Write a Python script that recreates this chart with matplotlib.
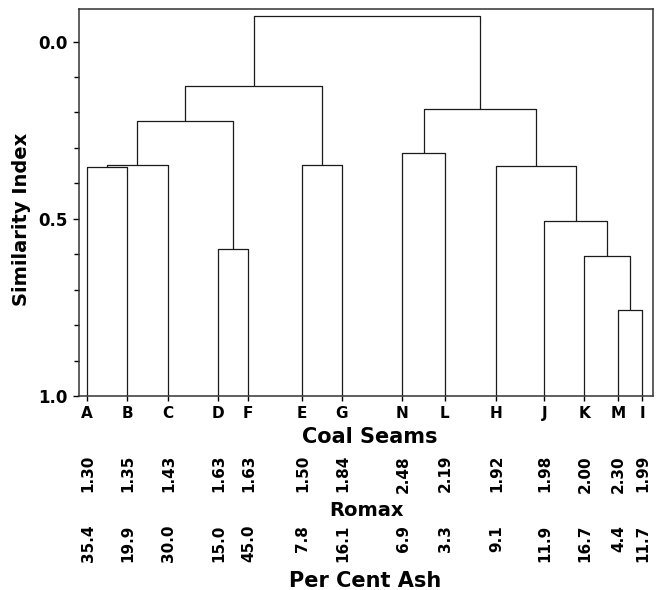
import matplotlib.pyplot as plt
import matplotlib.transforms as mtransforms
import numpy as np

plt.rcParams['font.family'] = ['DejaVu Sans']
plt.rcParams['font.weight'] = 'bold'

# leaves, in the order they appear along the axis
seams = ['A', 'B', 'C', 'D', 'F', 'E', 'G', 'N', 'L', 'H', 'J', 'K', 'M', 'I']
romax = ['1.30', '1.35', '1.43', '1.63', '1.63', '1.50', '1.84',
         '2.48', '2.19', '1.92', '1.98', '2.00', '2.30', '1.99']
ash = ['35.4', '19.9', '30.0', '15.0', '45.0', '7.8', '16.1',
       '6.9', '3.3', '9.1', '11.9', '16.7', '4.4', '11.7']

# merges: (left cluster, right cluster, similarity index of the join)
merges = [
    ('A', 'B', 0.355),
    ('AB', 'C', 0.347),
    ('D', 'F', 0.585),
    ('ABC', 'DF', 0.223),
    ('E', 'G', 0.347),
    ('ABCDF', 'EG', 0.124),
    ('N', 'L', 0.313),
    ('M', 'I', 0.758),
    ('K', 'MI', 0.604),
    ('J', 'KMI', 0.505),
    ('H', 'JKMI', 0.351),
    ('NL', 'HJKMI', 0.190),
    ('ABCDFEG', 'NLHJKMI', -0.073),
]

# layout: horizontal placement of the leaves (pixel-like units)
leaf_pos = [87, 127, 167.7, 217.7, 248.3, 301.7, 342,
            402.3, 444.7, 496, 544.3, 584.3, 617.7, 642.3]

W, H = 656, 590
fig = plt.figure(figsize=(W / 100, H / 100), dpi=100)
ax = fig.add_axes([79 / W, 1 - 396 / H, 574 / W, 387 / H])

line_kw = dict(color='#1a1a1a', lw=0.9, solid_capstyle='butt')
pos = {s: (x, 1.0) for s, x in zip(seams, leaf_pos)}
for a, b, h in merges:
    xa, ha = pos[a]
    xb, hb = pos[b]
    ax.plot([xa, xa, xb, xb], [ha, h, h, hb], **line_kw)
    pos[a + b] = ((xa + xb) / 2, h)

ax.set_xlim(79, 653)
ax.set_ylim(1.0, -0.092)

for sp in ax.spines.values():
    sp.set_linewidth(1.1)
    sp.set_color('#333333')

ax.set_yticks([0.0, 0.5, 1.0])
ax.set_yticklabels(['0.0', '0.5', '1.0'], fontsize=12, fontweight='bold')
ax.set_yticks(np.arange(0.1, 1.0, 0.1), minor=True)
ax.tick_params(axis='y', which='major', direction='out', length=4.3, width=1.0, pad=3.6)
ax.tick_params(axis='y', which='minor', direction='out', length=3.6, width=1.0)
ax.set_xticks(leaf_pos)
ax.set_xticklabels([])
ax.tick_params(axis='x', direction='out', length=3.6, width=1.0)

trans = mtransforms.blended_transform_factory(ax.transData, fig.transFigure)


def fy(ypix):
    return 1 - ypix / H


for x, s, r, a in zip(leaf_pos, seams, romax, ash):
    ax.text(x, fy(418), s, transform=trans, ha='center', va='baseline',
            fontsize=11, fontweight='bold', clip_on=False)
    ax.text(x + 1, fy(455), r, transform=trans, ha='center', va='top',
            rotation=90, fontsize=11, fontweight='bold', clip_on=False)
    ax.text(x + 1, fy(525), a, transform=trans, ha='center', va='top',
            rotation=90, fontsize=11, fontweight='bold', clip_on=False)

fig.text(370 / W, fy(443), 'Coal Seams', ha='center', va='baseline',
         fontsize=15, fontweight='bold')
fig.text(366 / W, fy(516), 'Romax', ha='center', va='baseline',
         fontsize=14, fontweight='bold')
fig.text(365 / W, fy(587), 'Per Cent Ash', ha='center', va='baseline',
         fontsize=15, fontweight='bold')
fig.text(22 / W, fy(219), 'Similarity Index', ha='center', va='center',
         rotation=90, fontsize=14, fontweight='bold')

fig.savefig('out.png', dpi=100)
